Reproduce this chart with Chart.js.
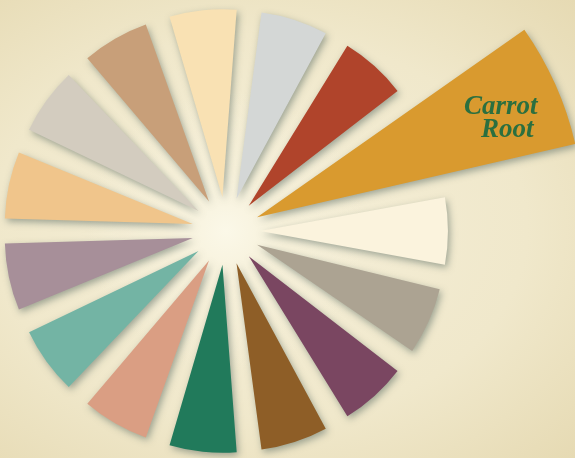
<!DOCTYPE html>
<html>
<head>
<meta charset="utf-8">
<script src="https://cdn.jsdelivr.net/npm/chart.js@4.4.1/dist/chart.umd.min.js"></script>
<style>
  html, body { margin: 0; padding: 0; }
  body {
    width: 575px; height: 458px; overflow: hidden;
    background:
      radial-gradient(circle at 226px 231px, #fbf8e8 0px, #f6f0d9 60px, rgba(246,240,217,0) 140px),
      radial-gradient(ellipse at 45% 50%, #f5efd9 0%, #f0e8cb 60%, #e6dab3 100%);
  }
  #wrap { position: relative; width: 575px; height: 458px; }
  canvas { filter: blur(0.6px); }
</style>
</head>
<body>
<div id="wrap"><canvas id="wheel" width="575" height="458"></canvas></div>
<script>
// wedges clockwise, starting with the pale one at the top
var colourNames = ['Cream', 'Silver Mist', 'Rust', 'Carrot Root', 'Ivory', 'Taupe', 'Plum',
                   'Bronze', 'Forest', 'Salmon', 'Teal', 'Mauve', 'Apricot', 'Stone', 'Tan'];
var wedgeValues = [10, 10, 10, 19, 10, 10, 10, 10, 10, 10, 10, 10, 10, 10, 10];
var wedgeColours = ['#f9e1b3', '#d4d7d6', '#b0442b', '#d99a2f', '#fbf3dd', '#aca392', '#7a4661',
                    '#8e5e27', '#217a5b', '#da9e83', '#73b4a4', '#a78f99', '#f0c58b', '#d3ccbf', '#c89f79'];
var labelLines = ['Carrot', 'Root'];
var highlight = 3;

var wedgeShadow = {
  id: 'wedgeShadow',
  beforeDatasetsDraw: function(chart) {
    var ctx = chart.ctx;
    ctx.save();
    ctx.shadowColor = 'rgba(75,95,90,0.5)';
    ctx.shadowBlur = 7;
    ctx.shadowOffsetX = 2;
    ctx.shadowOffsetY = 3;
  },
  afterDatasetsDraw: function(chart) {
    chart.ctx.restore();
  }
};

var wedgeLabel = {
  id: 'wedgeLabel',
  afterDatasetsDraw: function(chart) {
    var arc = chart.getDatasetMeta(0).data[highlight];
    var p = arc.getProps(['x', 'y', 'startAngle', 'endAngle', 'outerRadius'], true);
    var mid = (p.startAngle + p.endAngle) / 2 + 0.024;
    var dist = p.outerRadius * 1.013;
    var lx = p.x + Math.cos(mid) * dist;
    var ly = p.y + Math.sin(mid) * dist;
    var ctx = chart.ctx;
    ctx.save();
    ctx.fillStyle = '#2b6f3f';
    ctx.font = 'italic bold 27px "Liberation Serif", serif';
    ctx.textAlign = 'right';
    ctx.textBaseline = 'alphabetic';
    ctx.fillText(labelLines[0], lx + 38, ly - 3);
    ctx.fillText(labelLines[1], lx + 34, ly + 20);
    ctx.restore();
  }
};

var wheelCanvas = document.getElementById('wheel').getContext('2d');
var wheel = new Chart(wheelCanvas, {
  type: 'polarArea',
  data: {
    labels: colourNames,
    datasets: [{
      data: wedgeValues,
      backgroundColor: wedgeColours,
      borderWidth: 0,
      offset: 136,
      hoverOffset: 136,
      clip: false
    }]
  },
  options: {
    responsive: false,
    animation: false,
    events: [],
    layout: { padding: { left: 0, right: 123, top: 5, bottom: 1 } },
    scales: {
      r: {
        display: false,
        min: 0,
        max: 14.68,
        startAngle: -18
      }
    },
    plugins: {
      legend: { display: false },
      tooltip: { enabled: false }
    }
  },
  plugins: [wedgeShadow, wedgeLabel]
});
</script>
</body>
</html>
